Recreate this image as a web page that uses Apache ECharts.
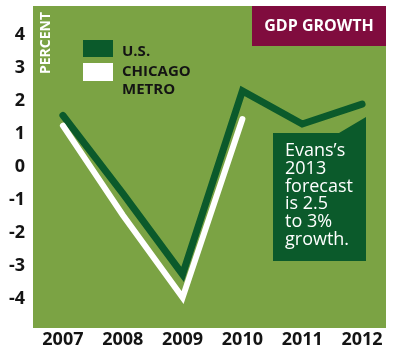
<!DOCTYPE html>
<html>
<head>
<meta charset="utf-8">
<script src="https://cdn.jsdelivr.net/npm/echarts@6/dist/echarts.min.js"></script>
<style>
  html, body { margin: 0; padding: 0; background: #ffffff; }
  #chart { width: 400px; height: 350px; }
</style>
</head>
<body>
<div id="chart"></div>
<script>
// Annual GDP growth, percent
const years = [2007, 2008, 2009, 2010, 2011, 2012];
const usGrowth = [1.56, -0.8, -3.25, 2.3, 1.3, 1.9];
const chicagoGrowth = [1.25, -1.45, -3.95, 1.45, null, null];
const yTicks = [-4, -3, -2, -1, 0, 1, 2, 3, 4];
const forecastLines = ['Evans\u2019s', '2013', 'forecast', 'is 2.5', 'to 3%', 'growth.'];

const FIELD = '#7ba344';
const DARK = '#0b5a2b';
const MAROON = '#800c3e';
const INK = '#141414';
const FONT = '"Open Sans", "DejaVu Sans", sans-serif';

const pairs = (vals) => years.map((y, i) => [y, vals[i]]).filter(p => p[1] !== null);

const chart = echarts.init(document.getElementById('chart'), null, { renderer: 'canvas' });

chart.setOption({
  animation: false,
  backgroundColor: '#ffffff',
  grid: {
    left: 33, right: 14, top: 6, bottom: 22,
    show: true, backgroundColor: FIELD, borderWidth: 0
  },
  xAxis: {
    type: 'value',
    min: 2006.5,
    max: 2012.4,
    axisLine: { show: false },
    axisTick: { show: false },
    splitLine: { show: false },
    axisLabel: {
      customValues: years,
      formatter: (v) => String(v),
      color: INK,
      fontFamily: FONT,
      fontWeight: 'bold',
      fontSize: 18,
      margin: 3
    }
  },
  yAxis: {
    type: 'value',
    min: -4.87,
    max: 4.87,
    axisLine: { show: false },
    axisTick: { show: false },
    splitLine: { show: false },
    axisLabel: {
      customValues: yTicks,
      formatter: (v) => String(v),
      color: INK,
      fontFamily: FONT,
      fontWeight: 'bold',
      fontSize: 18,
      margin: 8
    }
  },
  series: [
    {
      name: 'U.S.',
      type: 'line',
      data: pairs(usGrowth),
      symbol: 'none',
      z: 3,
      lineStyle: { color: DARK, width: 7, cap: 'round', join: 'miter' }
    },
    {
      name: 'CHICAGO METRO',
      type: 'line',
      data: pairs(chicagoGrowth),
      symbol: 'none',
      z: 4,
      lineStyle: { color: '#ffffff', width: 6, cap: 'round', join: 'miter' }
    }
  ],
  graphic: [
    // title tab
    {
      type: 'rect', left: 252, top: 6,
      shape: { width: 134, height: 40 },
      style: { fill: MAROON }, z: 10
    },
    {
      type: 'text', x: 319, y: 26,
      style: {
        text: 'GDP GROWTH', fill: '#ffffff', font: 'bold 16px ' + FONT,
        align: 'center', verticalAlign: 'middle'
      }, z: 11
    },
    // axis unit
    {
      type: 'text', x: 46, y: 43, rotation: Math.PI / 2,
      style: {
        text: 'PERCENT', fill: '#ffffff', font: 'bold 14px ' + FONT,
        align: 'center', verticalAlign: 'middle'
      }, z: 11
    },
    // legend
    {
      type: 'rect', left: 83, top: 40,
      shape: { width: 30, height: 17 },
      style: { fill: DARK }, z: 10
    },
    {
      type: 'rect', left: 83, top: 63,
      shape: { width: 30, height: 18 },
      style: { fill: '#ffffff' }, z: 10
    },
    {
      type: 'text', x: 122, y: 52,
      style: {
        text: 'U.S.', fill: INK, font: 'bold 15px ' + FONT,
        verticalAlign: 'middle'
      }, z: 11
    },
    {
      type: 'text', x: 122, y: 63,
      style: {
        text: 'CHICAGO\nMETRO', fill: INK, font: 'bold 15px ' + FONT,
        lineHeight: 18, verticalAlign: 'top'
      }, z: 11
    },
    // forecast callout
    {
      type: 'polygon',
      shape: { points: [[273, 133], [339, 133], [366, 117], [366, 261], [273, 261]] },
      style: { fill: DARK }, z: 10
    },
    {
      type: 'text', x: 285, y: 142,
      style: {
        text: forecastLines.join('\n'), fill: '#ffffff', font: '18px ' + FONT,
        lineHeight: 17.8, verticalAlign: 'top'
      }, z: 11
    }
  ]
});
</script>
</body>
</html>
